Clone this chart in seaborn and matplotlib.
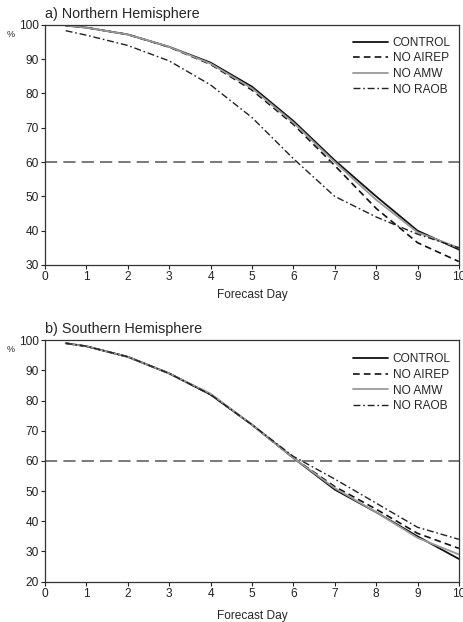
import numpy as np
import pandas as pd
import seaborn as sns
import matplotlib
matplotlib.use("Agg")
import matplotlib.pyplot as plt
from matplotlib.lines import Line2D

sns.set_style("ticks")
plt.rcParams['font.family'] = ['Liberation Sans', 'DejaVu Sans']

days = [0.5, 1, 2, 3, 4, 5, 6, 7, 8, 9, 10]
series = ["CONTROL", "NO AIREP", "NO AMW", "NO RAOB"]

nh_control = [99.8, 99.2, 97.2, 93.6, 89.0, 82.0, 72.0, 60.5, 50.0, 40.0, 34.5]
nh_airep   = [99.8, 99.2, 97.2, 93.5, 88.5, 81.0, 71.0, 59.0, 46.5, 36.5, 31.0]
nh_amw     = [99.8, 99.2, 97.2, 93.6, 88.7, 81.5, 71.5, 60.0, 49.0, 39.5, 35.0]
nh_raob    = [98.3, 97.0, 94.0, 89.5, 82.5, 73.0, 61.0, 50.0, 44.0, 39.0, 35.0]

sh_control = [99.0, 98.0, 94.5, 89.0, 82.0, 72.0, 61.0, 50.5, 43.0, 35.0, 27.5]
sh_airep   = [99.0, 98.0, 94.5, 89.0, 82.0, 72.0, 61.0, 51.5, 44.0, 36.0, 31.0]
sh_amw     = [99.0, 98.0, 94.5, 89.0, 82.3, 72.0, 61.0, 51.0, 43.0, 34.5, 29.0]
sh_raob    = [99.0, 98.0, 94.5, 89.0, 82.0, 72.0, 61.5, 54.0, 46.0, 38.0, 34.0]

titles = ["a) Northern Hemisphere", "b) Southern Hemisphere"]
xticks = list(range(0, 11))
nh_yticks = [30, 40, 50, 60, 70, 80, 90, 100]
sh_yticks = [20, 30, 40, 50, 60, 70, 80, 90, 100]

def long_df(vals):
    rows = []
    for name, v in zip(series, vals):
        for d, y in zip(days, v):
            rows.append({"day": d, "pct": y, "exp": name})
    return pd.DataFrame(rows)

palette = {"CONTROL": "#111111", "NO AIREP": "#111111", "NO AMW": "#9a9a9a", "NO RAOB": "#222222"}
dashes = {"CONTROL": "", "NO AIREP": (4, 2.5), "NO AMW": "", "NO RAOB": (5, 2, 1.2, 2)}
widths = {"CONTROL": 1.3, "NO AIREP": 1.2, "NO AMW": 1.3, "NO RAOB": 1.0}

fig = plt.figure(figsize=(4.64, 6.22), dpi=100)
ax1 = fig.add_axes([0.097, 0.574, 0.892, 0.386])
ax2 = fig.add_axes([0.097, 0.065, 0.892, 0.388])

for ax, vals, title, yt, lpad, leg_y in [
        (ax1, [nh_control, nh_airep, nh_amw, nh_raob], titles[0], nh_yticks, 4, 0.985),
        (ax2, [sh_control, sh_airep, sh_amw, sh_raob], titles[1], sh_yticks, 7, 0.98)]:
    df = long_df(vals)
    sns.lineplot(data=df, x="day", y="pct", hue="exp", style="exp",
                 palette=palette, dashes=dashes, ax=ax, legend=False)
    for line, name in zip(ax.get_lines(), series):
        line.set_linewidth(widths[name])
    ax.axhline(60, color="#555555", lw=1.1, dashes=(8, 4))
    ax.set_xlim(0, 10)
    ax.set_ylim(yt[0], yt[-1])
    ax.set_xticks(xticks)
    ax.set_yticks(yt)
    ax.tick_params(labelsize=8.6, length=3, width=0.8, direction="out", pad=1.5, colors="#222222")
    for s in ax.spines.values():
        s.set_linewidth(0.9)
        s.set_color("#333333")
    ax.set_xlabel("Forecast Day", fontsize=8.6, labelpad=lpad)
    ax.set_ylabel("")
    ax.set_title(title, loc="left", fontsize=10.4, pad=5)
    ax.text(-0.093, 0.96, "%", transform=ax.transAxes, fontsize=6.5, ha="left", va="center")
    handles = []
    for n in series:
        h = Line2D([], [], color=palette[n], lw=widths[n])
        if dashes[n]:
            h.set_dashes(dashes[n])
        handles.append(h)
    ax.legend(handles, series, loc="upper right", frameon=False, fontsize=8.6,
              handlelength=2.9, handletextpad=0.4, labelspacing=0.3,
              bbox_to_anchor=(1.0, leg_y), borderaxespad=0.3)

fig.savefig("out.png", dpi=100)
